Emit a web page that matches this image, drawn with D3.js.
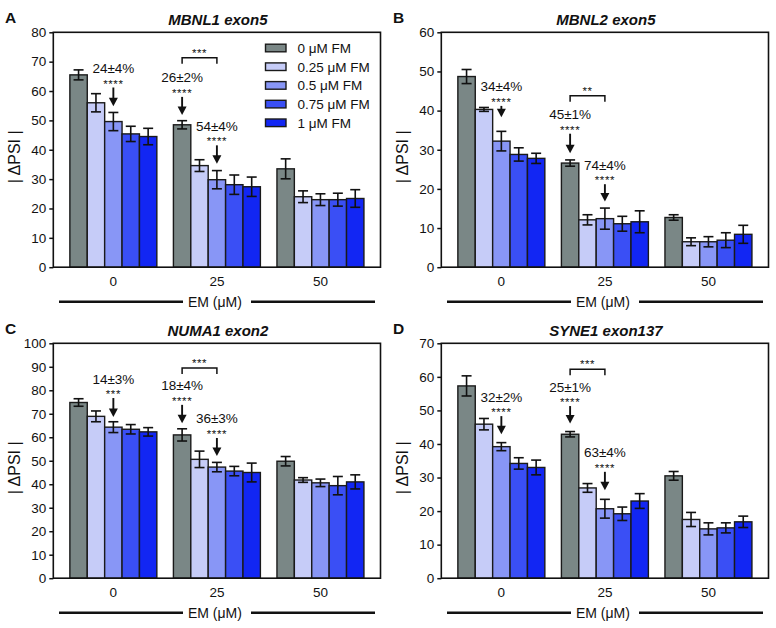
<!DOCTYPE html>
<html>
<head>
<meta charset="utf-8">
<script src="https://cdn.jsdelivr.net/npm/d3@7"></script>
<style>
  html, body { margin: 0; padding: 0; background: #ffffff; }
  svg { display: block; font-family: "Liberation Sans", Arial, Helvetica, sans-serif; }
</style>
</head>
<body>
<svg id="chart" width="776" height="628"></svg>
<script>
// ---------------- data ----------------
const emGroups = ["0", "25", "50"];
const fmSeries = ["0 μM FM", "0.25 μM FM", "0.5 μM FM", "0.75 μM FM", "1 μM FM"];
const fmColors = ["#7a8786", "#c6ccf8", "#8896f6", "#3a4ff5", "#1226f3"];

const panelLetters = ["A", "B", "C", "D"];
const panelTitles = ["MBNL1 exon5", "MBNL2 exon5", "NUMA1 exon2", "SYNE1 exon137"];
const panelYMax = [80, 60, 100, 70];

// means: one row per EM group, one value per FM series
const mbnl1Means = [[65.5, 56.0, 49.6, 45.4, 44.5], [48.5, 34.6, 29.8, 28.1, 27.4], [33.5, 24.0, 23.0, 23.0, 23.4]];
const mbnl1Errors = [[1.7, 3.1, 3.1, 2.6, 2.8], [1.4, 2.0, 3.1, 3.3, 3.3], [3.4, 2.0, 2.0, 2.2, 3.0]];
const mbnl2Means = [[48.7, 40.3, 32.2, 28.8, 27.8], [26.6, 12.1, 12.4, 11.1, 11.6], [12.7, 6.5, 6.5, 6.9, 8.4]];
const mbnl2Errors = [[1.8, 0.5, 2.5, 1.7, 1.3], [0.8, 1.3, 2.7, 1.9, 2.8], [0.7, 1.0, 1.3, 1.9, 2.3]];
const numa1Means = [[74.8, 68.9, 64.3, 63.4, 62.3], [61.0, 50.6, 47.3, 45.6, 45.0], [49.8, 41.8, 40.6, 39.4, 41.0]];
const numa1Errors = [[1.6, 2.3, 2.3, 2.0, 1.8], [2.6, 3.5, 2.0, 2.0, 4.0], [2.0, 1.0, 1.6, 3.9, 3.0]];
const syne1Means = [[57.3, 45.9, 39.2, 34.2, 33.0], [42.9, 26.9, 20.7, 19.2, 23.0], [30.5, 17.5, 14.7, 15.0, 16.8]];
const syne1Errors = [[3.0, 1.7, 1.2, 1.7, 2.2], [0.8, 1.3, 2.8, 2.0, 2.2], [1.3, 2.1, 1.8, 1.5, 1.7]];

const panelMeans = [mbnl1Means, mbnl2Means, numa1Means, syne1Means];
const panelErrors = [mbnl1Errors, mbnl2Errors, numa1Errors, syne1Errors];

// arrow annotations: EM group, FM series index, text, stars, arrow top / tip (data units)
const mbnl1Notes = [
  { group: "0", series: 2, text: "24±4%", stars: "****", top: 61.2, tip: 54.8 },
  { group: "25", series: 0, text: "26±2%", stars: "****", top: 58.0, tip: 51.8 },
  { group: "25", series: 2, text: "54±4%", stars: "****", top: 41.5, tip: 35.2 }
];
const mbnl2Notes = [
  { group: "0", series: 2, text: "34±4%", stars: "****", top: 41.2, tip: 38.3 },
  { group: "25", series: 0, text: "45±1%", stars: "****", top: 34.1, tip: 29.1 },
  { group: "25", series: 2, text: "74±4%", stars: "****", top: 21.2, tip: 16.8 }
];
const numa1Notes = [
  { group: "0", series: 2, text: "14±3%", stars: "***", top: 76.7, tip: 68.6 },
  { group: "25", series: 0, text: "18±4%", stars: "****", top: 73.8, tip: 66.0 },
  { group: "25", series: 2, text: "36±3%", stars: "****", top: 59.7, tip: 52.0 }
];
const syne1Notes = [
  { group: "0", series: 2, text: "32±2%", stars: "****", top: 48.3, tip: 42.9 },
  { group: "25", series: 0, text: "25±1%", stars: "****", top: 51.3, tip: 46.1 },
  { group: "25", series: 2, text: "63±4%", stars: "****", top: 31.7, tip: 26.2 }
];
const panelNotes = [mbnl1Notes, mbnl2Notes, numa1Notes, syne1Notes];

// significance brackets between series within the 25 μM EM group
const panelBrackets = [
  { group: "25", from: 0, to: 2, stars: "***", level: 71.3 },
  { group: "25", from: 0, to: 2, stars: "**", level: 43.8 },
  { group: "25", from: 0, to: 2, stars: "***", level: 89.5 },
  { group: "25", from: 0, to: 2, stars: "***", level: 62.3 }
];

// ---------------- drawing ----------------
const svg = d3.select("#chart");
const offsets = [[0, 0], [388, 0], [0, 311], [388, 311]];
const plot = { left: 53.3, right: 380.5, top: 32.3, bottom: 267.2 };
const ink = "#111";
const fontFam = '"Liberation Sans", Arial, sans-serif';

function drawPanel(i) {
  const g = svg.append("g").attr("transform", `translate(${offsets[i][0]},${offsets[i][1]})`);
  const means = panelMeans[i], errs = panelErrors[i];

  const x0 = d3.scaleBand().domain(emGroups).range([plot.left, plot.right])
    .paddingInner(0.16).paddingOuter(0.16);
  const x1 = d3.scaleBand().domain(d3.range(fmSeries.length)).range([0, x0.bandwidth()]).padding(0);
  const y = d3.scaleLinear().domain([0, panelYMax[i]]).range([plot.bottom, plot.top]);

  // y axis
  const yAxis = g.append("g").attr("transform", `translate(${plot.left},0)`)
    .call(d3.axisLeft(y).ticks(panelYMax[i] / 10).tickSize(4).tickPadding(3));
  yAxis.select(".domain").remove();
  yAxis.selectAll(".tick line").attr("stroke", ink).attr("stroke-width", 1.5);
  yAxis.selectAll(".tick text").attr("font-size", 13.5).attr("fill", ink).attr("font-family", fontFam);

  // x axis labels (no tick marks)
  const xAxis = g.append("g").attr("transform", `translate(0,${plot.bottom})`)
    .call(d3.axisBottom(x0).tickSize(0).tickPadding(9));
  xAxis.select(".domain").remove();
  xAxis.selectAll(".tick text").attr("font-size", 13.5).attr("fill", ink).attr("font-family", fontFam);

  // bars
  const groups = g.append("g").selectAll("g").data(emGroups).join("g")
    .attr("transform", d => `translate(${x0(d)},0)`);
  groups.each(function (grp, gi) {
    const sel = d3.select(this);
    const rows = means[gi].map((v, si) => ({ v, e: errs[gi][si], si }));
    sel.selectAll("rect").data(rows).join("rect")
      .attr("x", d => x1(d.si))
      .attr("y", d => y(d.v))
      .attr("width", x1.bandwidth())
      .attr("height", d => y(0) - y(d.v))
      .attr("fill", d => fmColors[d.si])
      .attr("stroke", "#1a1a1a").attr("stroke-width", 1.4);
    const eb = sel.selectAll("g.err").data(rows).join("g").attr("class", "err")
      .attr("stroke", ink).attr("stroke-width", 1.6).attr("fill", "none");
    const cx = d => x1(d.si) + x1.bandwidth() / 2;
    eb.append("line").attr("x1", cx).attr("x2", cx).attr("y1", d => y(d.v + d.e)).attr("y2", d => y(d.v - d.e));
    eb.append("line").attr("x1", d => cx(d) - 5).attr("x2", d => cx(d) + 5).attr("y1", d => y(d.v + d.e)).attr("y2", d => y(d.v + d.e));
    eb.append("line").attr("x1", d => cx(d) - 5).attr("x2", d => cx(d) + 5).attr("y1", d => y(d.v - d.e)).attr("y2", d => y(d.v - d.e));
  });

  // frame
  g.append("rect").attr("x", plot.left).attr("y", plot.top)
    .attr("width", plot.right - plot.left).attr("height", plot.bottom - plot.top)
    .attr("fill", "none").attr("stroke", ink).attr("stroke-width", 1.6);

  // annotations
  const barCenter = (grp, si) => x0(grp) + x1(si) + x1.bandwidth() / 2;
  panelNotes[i].forEach(n => {
    const cx = barCenter(n.group, n.series);
    const yTop = y(n.top), yTip = y(n.tip);
    g.append("line").attr("x1", cx).attr("x2", cx).attr("y1", yTop).attr("y2", yTip - 6)
      .attr("stroke", ink).attr("stroke-width", 1.9);
    g.append("path").attr("d", `M${cx - 4.5},${yTip - 8.5} L${cx + 4.5},${yTip - 8.5} L${cx},${yTip} Z`).attr("fill", ink);
    const starsY = yTop - 6.3;
    g.append("text").attr("x", cx).attr("y", starsY + 6.4).attr("text-anchor", "middle")
      .attr("font-size", 11.5).attr("letter-spacing", 0.6).attr("fill", ink).text(n.stars);
    g.append("text").attr("x", cx).attr("y", starsY - 8.2).attr("text-anchor", "middle")
      .attr("font-size", 13.5).attr("fill", ink).text(n.text);
  });

  const b = panelBrackets[i];
  const bx1 = barCenter(b.group, b.from), bx2 = barCenter(b.group, b.to), by = y(b.level);
  g.append("path").attr("d", `M${bx1},${by + 6} L${bx1},${by} L${bx2},${by} L${bx2},${by + 6}`)
    .attr("fill", "none").attr("stroke", ink).attr("stroke-width", 1.5);
  g.append("text").attr("x", (bx1 + bx2) / 2).attr("y", by - 0.8).attr("text-anchor", "middle")
    .attr("font-size", 11.5).attr("letter-spacing", 0.6).attr("fill", ink).text(b.stars);

  // title & letter
  g.append("text").attr("x", (plot.left + plot.right) / 2 + 1).attr("y", 25).attr("text-anchor", "middle")
    .attr("font-size", 15).attr("font-weight", "bold").attr("font-style", "italic").attr("fill", ink)
    .text(panelTitles[i]);
  g.append("text").attr("x", 5).attr("y", 23).attr("font-size", 15.5).attr("font-weight", "bold")
    .attr("fill", ink).text(panelLetters[i]);

  // y label
  g.append("text").attr("transform", `translate(19.5,${(plot.top + plot.bottom) / 2 + 7}) rotate(-90)`)
    .attr("text-anchor", "middle").attr("font-size", 16).attr("fill", ink).text("| ΔPSI |");

  // x label with rules
  const lx = (plot.left + plot.right) / 2 - 2;
  const ly = plot.bottom + 34.5;
  g.append("line").attr("x1", 59).attr("x2", 183).attr("y1", ly).attr("y2", ly)
    .attr("stroke", ink).attr("stroke-width", 2.6);
  g.append("line").attr("x1", 251).attr("x2", 375).attr("y1", ly).attr("y2", ly)
    .attr("stroke", ink).attr("stroke-width", 2.6);
  g.append("text").attr("x", lx).attr("y", ly + 5).attr("text-anchor", "middle")
    .attr("font-size", 14).attr("fill", ink).text("EM (μM)");

  // legend (panel A only)
  if (i === 0) {
    const lg = g.append("g");
    fmSeries.forEach((s, si) => {
      const cy = 48 + si * 18.7;
      lg.append("rect").attr("x", 265.5).attr("y", cy - 3.8).attr("width", 20.5).attr("height", 7.6)
        .attr("fill", fmColors[si]).attr("stroke", "#1a1a1a").attr("stroke-width", 1.4);
      lg.append("text").attr("x", 297.5).attr("y", cy + 4.8).attr("font-size", 13.5).attr("fill", ink).text(s);
    });
  }
}

panelLetters.forEach((_, i) => drawPanel(i));
</script>
</body>
</html>
